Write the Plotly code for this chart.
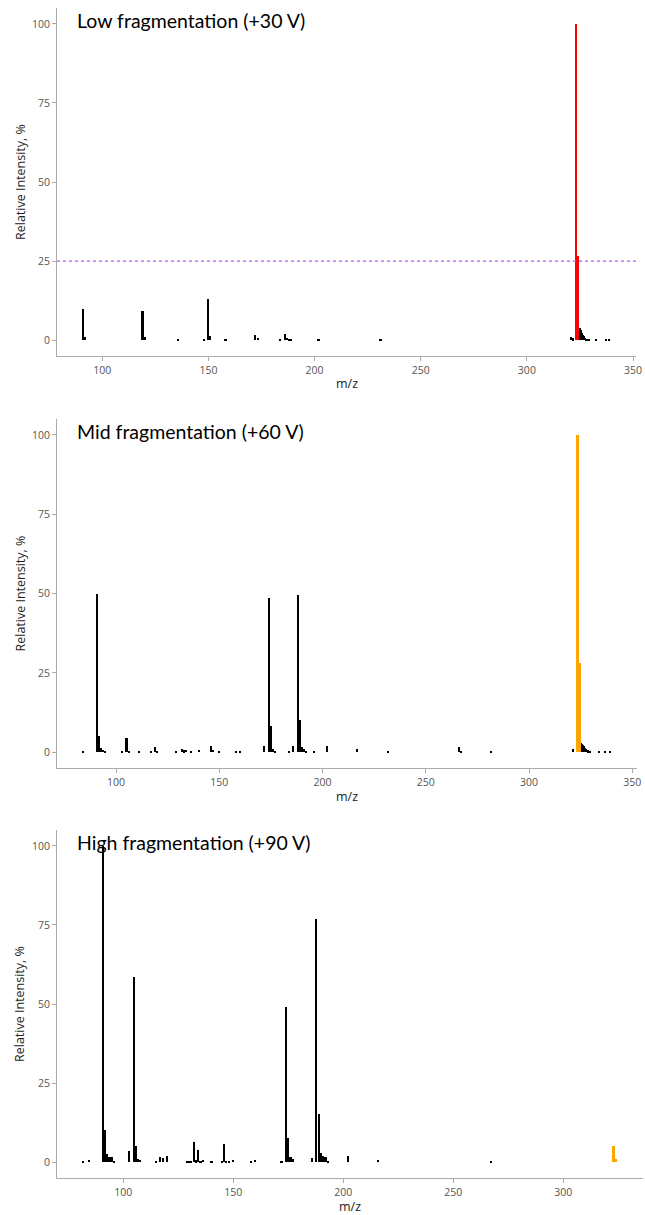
import plotly.graph_objects as go

# ---------------- data ----------------
titles = ["Low fragmentation (+30 V)", "Mid fragmentation (+60 V)", "High fragmentation (+90 V)"]
x_title = "m/z"
y_title = "Relative Intensity, %"

low_mz = [91.1, 92.1, 119.1, 120.1, 135.9, 148.0, 150.0, 151.0, 158.2, 172.0, 173.5, 183.7, 186.0, 187.0,
          188.0, 189.0, 202.0, 231.2, 321.0, 322.0, 325.2, 325.7, 326.2, 326.7, 327.2, 327.7, 328.2, 328.7,
          329.2, 332.8, 337.4, 339.0]
low_int = [10.0, 1.0, 9.2, 1.0, 0.3, 0.3, 13.1, 1.3, 0.3, 1.5, 0.8, 0.3, 1.8, 0.8,
           0.5, 0.3, 0.3, 0.5, 1.0, 0.6, 4.0, 3.2, 2.4, 1.7, 1.2, 0.8, 0.5, 0.3,
           0.2, 0.3, 0.5, 0.3]
low_prec_mz = [323.3, 324.3]
low_prec_int = [100.0, 26.5]

mid_mz = [84.2, 91.0, 92.0, 93.0, 94.0, 95.0, 103.2, 105.2, 106.2, 111.3, 117.2, 119.1, 120.1, 129.3,
          132.2, 133.2, 134.2, 136.6, 140.1, 145.9, 147.0, 150.2, 158.0, 160.2, 172.0, 174.1, 175.1,
          176.1, 177.1, 184.1, 186.0, 188.1, 189.1, 190.1, 191.1, 192.1, 196.1, 202.3, 216.6, 232.0,
          266.0, 267.2, 281.5, 321.3, 325.3, 325.8, 326.3, 326.8, 327.3, 327.8, 328.3, 328.8, 329.3,
          329.8, 333.8, 337.0, 339.5]
mid_int = [0.3, 49.7, 5.2, 1.2, 0.8, 0.5, 0.3, 4.5, 0.5, 0.2, 0.3, 1.5, 0.5, 0.3,
           1.0, 0.6, 0.8, 0.3, 0.7, 2.0, 0.7, 0.5, 0.3, 0.3, 1.8, 48.5, 8.2,
           1.0, 0.5, 0.5, 2.0, 49.5, 10.0, 1.5, 1.0, 0.5, 0.2, 1.9, 1.0, 0.3,
           1.5, 0.5, 0.3, 1.0, 3.0, 2.6, 2.2, 1.8, 1.4, 1.1, 0.8, 0.6, 0.4,
           0.2, 0.3, 0.3, 0.5]
mid_prec_mz = [323.5, 324.5]
mid_prec_int = [100.0, 28.2]

high_mz = [82.0, 84.4, 90.8, 91.8, 92.8, 93.8, 94.8, 96.0, 102.9, 105.0, 105.9, 106.9, 107.9, 115.0,
           116.8, 118.0, 120.1, 128.9, 130.0, 131.0, 132.2, 133.2, 134.1, 135.2, 136.4, 140.2, 145.0,
           145.9, 147.0, 148.0, 150.0, 158.3, 160.1, 172.0, 173.9, 175.1, 176.1, 177.1, 185.8, 187.8,
           189.0, 190.0, 191.0, 192.0, 193.0, 202.4, 216.0, 267.1]
high_int = [0.3, 0.7, 100.0, 10.3, 2.5, 1.5, 1.5, 0.3, 3.5, 58.5, 5.2, 1.0, 0.7, 0.3,
            1.5, 1.2, 2.0, 0.4, 0.5, 0.5, 6.4, 0.6, 3.8, 0.5, 0.8, 0.2, 0.5,
            5.9, 0.5, 0.4, 0.7, 0.3, 0.7, 0.3, 49.0, 7.5, 1.5, 1.0, 1.3, 76.9,
            15.1, 3.0, 2.0, 1.5, 0.5, 2.1, 0.8, 0.3]
high_prec_mz = [323.0, 324.1]
high_prec_int = [5.0, 1.0]

threshold = 25
y_ticks = [0, 25, 50, 75, 100]
x_ticks = [100, 150, 200, 250, 300, 350]

panels = [
    (low_mz, low_int, low_prec_mz, low_prec_int, "#FF0000"),
    (mid_mz, mid_int, mid_prec_mz, mid_prec_int, "#FFA500"),
    (high_mz, high_int, high_prec_mz, high_prec_int, "#FFA500"),
]

# ---------------- layout geometry (window pixels) ----------------
W, H = 645, 1215
x_doms_px = [(57, 636), (57, 637), (57, 643)]
y_doms_px = [(8, 356), (419, 768), (830, 1178)]

def px_x(v):
    return v / W

def px_y(v):
    return 1 - v / H

fig = go.Figure()
AXC = "#ABABAB"
TICKFONT = dict(family="Open Sans", size=10.5, color="#555555")
TITLEFONT = dict(family="Open Sans", size=12.5, color="#222222")

for i, (mz, inten, pmz, pint, pcol) in enumerate(panels):
    n = "" if i == 0 else str(i + 1)
    xa, ya = "x" + n, "y" + n
    fig.add_trace(go.Bar(x=mz, y=inten, width=0.75, marker=dict(color="black", line=dict(width=0)),
                         xaxis=xa, yaxis=ya, showlegend=False))
    fig.add_trace(go.Bar(x=pmz, y=pint, width=0.9, marker=dict(color=pcol, line=dict(width=0)),
                         xaxis=xa, yaxis=ya, showlegend=False))
    allx = list(mz) + list(pmz)
    lo, hi = min(allx), max(allx)
    span = hi - lo
    xr = [lo - 0.05 * span, hi + 0.05 * span]
    x0, x1 = x_doms_px[i]
    ytop, ybot = y_doms_px[i]
    fig.layout["xaxis" + n] = dict(
        domain=[px_x(x0), min(1.0, px_x(x1))], range=xr, anchor=ya, tickvals=x_ticks,
        automargin=False,
        showline=True, linecolor=AXC, linewidth=1, ticks="outside", ticklen=4, tickcolor=AXC,
        showgrid=False, zeroline=False, tickfont=TICKFONT,
    )
    fig.layout["yaxis" + n] = dict(
        domain=[px_y(ybot), px_y(ytop)], range=[-5, 105], anchor=xa, tickvals=y_ticks,
        automargin=False,
        showline=True, linecolor=AXC, linewidth=1, ticks="outside", ticklen=4, tickcolor=AXC,
        showgrid=False, zeroline=False, tickfont=TICKFONT,
    )
    # panel title
    fig.add_annotation(text=titles[i], xref="paper", yref="paper", x=px_x(75),
                       y=px_y(ytop + 12), xanchor="left", yanchor="middle", showarrow=False,
                       font=dict(family="Lato", size=19.5, color="black"))
    # x axis title
    fig.add_annotation(text=x_title, xref="paper", yref="paper", x=px_x((x0 + x1) / 2),
                       y=px_y(ybot + 28), xanchor="center", yanchor="middle", showarrow=False,
                       font=TITLEFONT)
    # y axis title
    fig.add_annotation(text=y_title, xref="paper", yref="paper", x=px_x(20),
                       y=px_y((ytop + ybot) / 2), xanchor="center", yanchor="middle",
                       showarrow=False, textangle=-90, font=TITLEFONT)

# threshold line on first panel
fig.add_shape(type="line", xref="x domain", yref="y", x0=0, x1=1, y0=threshold, y1=threshold,
              line=dict(color="#B455FF", width=1.2, dash="dot"))

fig.update_layout(
    width=W, height=H, margin=dict(l=0, r=0, t=0, b=0, autoexpand=False),
    plot_bgcolor="white", paper_bgcolor="white", bargap=0, barmode="overlay",
)

fig.write_html("out.html", config={"displayModeBar": False},
               post_script="document.body.style.margin='0';document.body.style.overflow='hidden';")
